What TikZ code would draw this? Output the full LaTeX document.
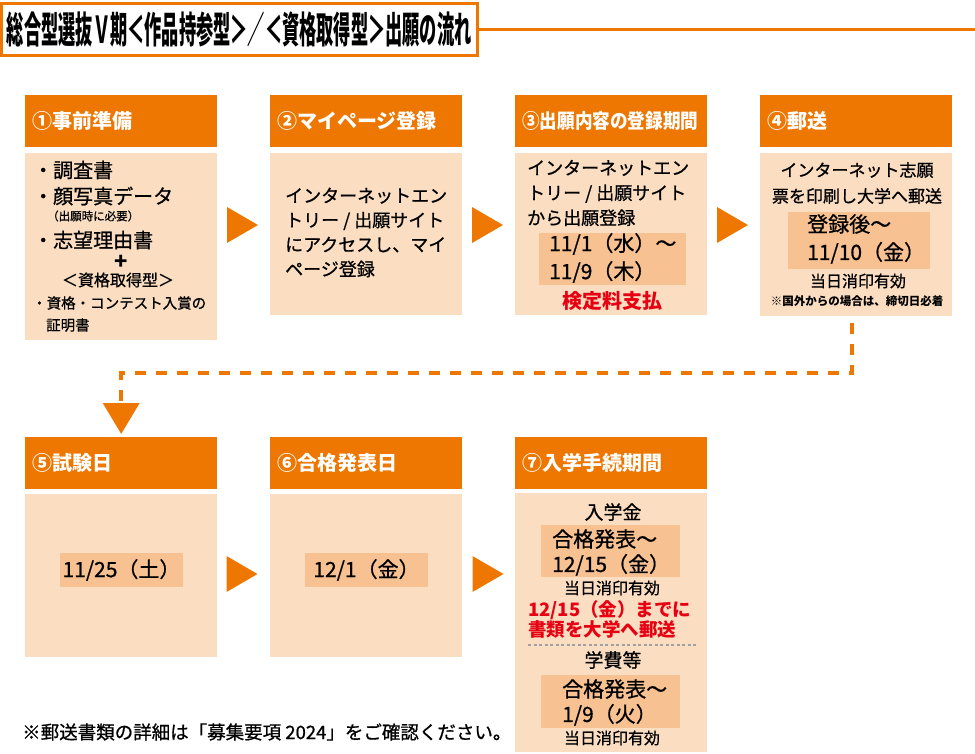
\documentclass[tikz,border=0pt]{standalone}
\usepackage{fontspec}
\usepackage{graphicx}
\usepackage{xcolor}
\usetikzlibrary{arrows.meta,positioning,calc}
\setmainfont{Noto Sans CJK JP}[UprightFeatures={FakeBold=0.8}]
\newcommand{\fsz}[2]{\fontsize{#1}{#2}\selectfont}
\definecolor{hdorange}{HTML}{ED7700}
\definecolor{bodypeach}{HTML}{FBDEC1}
\definecolor{datepeach}{HTML}{F8C192}
\definecolor{notered}{HTML}{E60012}
\definecolor{sepgray}{HTML}{A0A0A0}

\begin{document}
\begin{tikzpicture}[x=1pt, y=-1pt,
  head/.style={fill=hdorange, text=white, anchor=north west, minimum width=192pt, minimum height=52pt, text width=178pt, inner xsep=7pt, inner ysep=0pt, align=left, font=\bfseries\fsz{20}{20}},
  body/.style={fill=bodypeach, anchor=north west, minimum width=192pt, inner sep=0pt},
  datebox/.style={fill=datepeach, anchor=north west, inner sep=0pt},
  txt/.style={inner sep=0pt, anchor=west},
  ctxt/.style={inner sep=0pt},
  dashlink/.style={draw=hdorange, line width=4pt, dash pattern=on 11pt off 10pt, shorten <=7pt, shorten >=3pt, -{Triangle[width=36pt,length=31pt]}},
  sepline/.style={draw=sepgray, line width=1.2pt, dash pattern=on 3pt off 2.5pt}]
\useasboundingbox (0,0) rectangle (975,753);

% title
\node[draw=hdorange, line width=3pt, minimum width=475.5pt, minimum height=52pt, inner sep=0pt] (title) at (239.25,29) {\scalebox{0.465}[1]{\bfseries\fsz{37}{37}総合型選抜Ｖ期＜作品持参型＞／＜資格取得型＞出願の流れ}};
\coordinate (titleend) at (975,29);
\draw[hdorange, line width=3pt] (title.east) -- (titleend);

% headers
\node[head] (h1) at (25,95) {①事前準備};
\node[head] (h2) at (270,95) {②マイページ登録};
\node[head] (h3) at (515,95) {\scalebox{0.88}[1]{③出願内容の登録期間}};
\node[head] (h4) at (760,95) {④郵送};
\node[head] (h5) at (25,437) {⑤試験日};
\node[head] (h6) at (270,437) {⑥合格発表日};
\node[head] (h7) at (515,437) {⑦入学手続期間};

% bodies
\node[body, minimum height=187pt] (b1) at (25,153) {};
\node[body, minimum height=162pt] (b2) at (270,153) {};
\node[body, minimum height=162pt] (b3) at (515,153) {};
\node[body, minimum height=163pt] (b4) at (760,153) {};
\node[body, minimum height=163pt] (b5) at (25,494) {};
\node[body, minimum height=163pt] (b6) at (270,494) {};
\node[body, minimum height=259pt] (b7) at (515,493) {};

% step arrows
\foreach \ax/\ay in {242.5/225, 487.5/225, 732.5/225, 242/574, 488/574}
  \fill[hdorange] (\ax,\ay) ++(-15.5,-18) -- ++(31,18) -- ++(-31,18) -- cycle;

% 1
\node[txt, font=\fsz{20}{20}] (t1a) at (33,170) {・調査書};
\node[txt, font=\fsz{20}{20}] (t1b) at (33,196) {・顔写真データ};
\node[txt, font=\fsz{11.5}{11.5}] (t1c) at (47,216) {（出願時に必要）};
\node[txt, font=\fsz{20}{20}] (t1d) at (33,240) {・志望理由書};
\node[ctxt, font=\bfseries\fsz{22}{22}] (t1e) at (121,262) {+};
\node[ctxt, font=\fsz{16}{16}] (t1f) at (118,280) {＜資格取得型＞};
\node[txt, font=\fsz{14.5}{14.5}] (t1g) at (32,303) {・資格・コンテスト入賞の};
\node[txt, font=\fsz{14.5}{14.5}] (t1h) at (46,325) {証明書};

% 2
\node[txt, align=left, font=\fsz{18}{24.5}] (t2) at (285,232.5) {インターネットエン\\トリー / 出願サイト\\にアクセスし、マイ\\ページ登録};

% 3
\node[txt, align=left, font=\fsz{18}{25}] (t3) at (527,193) {インターネットエン\\トリー / 出願サイト\\から出願登録};
\node[datebox, minimum width=147pt, minimum height=52pt] (d3) at (539,233) {};
\node[txt, align=left, font=\fsz{21}{28}] (t3d) at (549,258) {11/1（水）〜\\11/9（木）};
\node[ctxt, text=notered, font=\bfseries\fsz{20}{20}] (t3r) at (612,301) {検定料支払};

% 4
\node[ctxt, align=center, font=\fsz{17}{26}] (t4) at (857,183) {インターネット志願\\票を印刷し大学へ郵送};
\node[datebox, minimum width=142pt, minimum height=57pt] (d4) at (788,212) {};
\node[txt, align=left, font=\fsz{21}{28}] (t4d) at (807,239) {登録後〜\\11/10（金）};
\node[ctxt, font=\fsz{16}{16}] (t4e) at (858,281) {当日消印有効};
\node[ctxt, font=\bfseries\fsz{11.5}{11.5}] (t4f) at (857,301) {※国外からの場合は、締切日必着};

% 4 -> 5
\coordinate (bend) at (0,373);
\draw[dashlink] ([xshift=-4pt]b4.south) -- ([xshift=-4pt]b4.south |- bend) -- (h5.north |- bend) -- (h5.north);

% 5, 6
\node[datebox, anchor=center, minimum width=123pt, minimum height=34pt, font=\fsz{21}{21}] (d5) at (121.5,570) {11/25（土）};
\node[datebox, anchor=center, minimum width=123pt, minimum height=34pt, font=\fsz{21}{21}] (d6) at (366.5,570) {12/1（金）};

% 7
\node[ctxt, font=\fsz{19}{19}] (t7a) at (613,512) {入学金};
\node[datebox, minimum width=139pt, minimum height=52pt] (d7a) at (541,525) {};
\node[txt, align=left, font=\fsz{21}{25}] (t7b) at (552,552.5) {合格発表〜\\12/15（金）};
\node[ctxt, font=\fsz{16}{16}] (t7c) at (612,588) {当日消印有効};
\node[txt, align=left, text=notered, font=\bfseries\fsz{18.5}{19}] (t7d) at (528,619.5) {12/15（金）までに\\書類を大学へ郵送};
\draw[sepline] (528,645) -- (698,645);
\node[ctxt, font=\fsz{19}{19}] (t7e) at (613,660) {学費等};
\node[datebox, minimum width=139pt, minimum height=53pt] (d7b) at (541,675) {};
\node[txt, align=left, font=\fsz{21}{25}] (t7f) at (562,702.5) {合格発表〜\\1/9（火）};
\node[ctxt, font=\fsz{16}{16}] (t7g) at (612,738) {当日消印有効};

% note
\node[txt, font=\fsz{18.5}{18.5}] (note) at (22,732) {※郵送書類の詳細は「募集要項 2024」をご確認ください。};
\end{tikzpicture}
\end{document}
